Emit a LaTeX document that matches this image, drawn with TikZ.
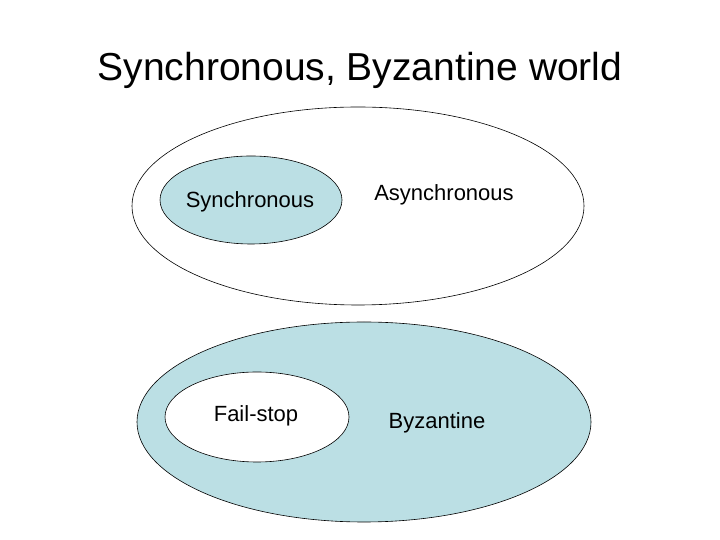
\documentclass[tikz,border=0pt]{standalone}
\usepackage{fontspec}
\setmainfont{Liberation Sans}
\definecolor{lb}{RGB}{187,223,228}
\begin{document}
\begin{tikzpicture}[x=1pt,y=1pt,
  ell/.style={draw=black,line width=0.6pt},
  lbl/.style={font=\fontsize{22}{26}\selectfont,inner sep=0pt}]
\useasboundingbox (0,0) rectangle (720,540);
\node[font=\fontsize{39}{44}\selectfont] (title) at (360,470) {Synchronous, Byzantine world};
\draw[ell,fill=white] (358,334) ellipse [x radius=226, y radius=99];
\draw[ell,fill=lb] (251,340) ellipse [x radius=91, y radius=44];
\node[lbl] (sync) at (250,338) {Synchronous};
\node[lbl] (async) at (444,345) {Asynchronous};
\draw[ell,fill=lb] (364,118) ellipse [x radius=227, y radius=100];
\draw[ell,fill=white] (257,123) ellipse [x radius=92, y radius=45];
\node[lbl] (fs) at (256,124) {Fail-stop};
\node[lbl] (byz) at (437,117) {Byzantine};
\end{tikzpicture}
\end{document}
